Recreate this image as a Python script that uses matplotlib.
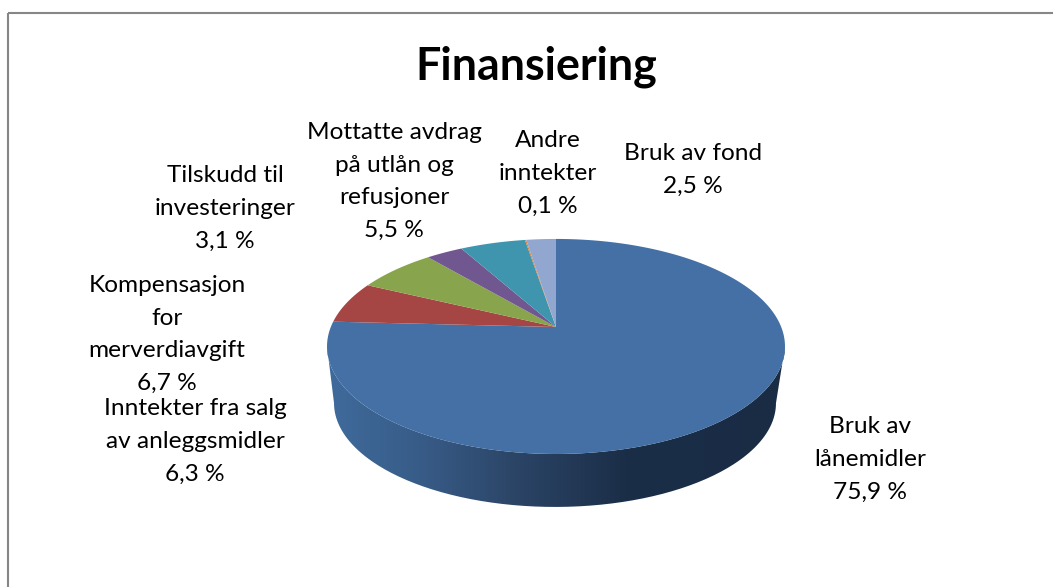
import matplotlib
matplotlib.use('Agg')
import matplotlib.pyplot as plt
import numpy as np
from matplotlib.colors import LinearSegmentedColormap
from matplotlib.patches import PathPatch, Rectangle
from matplotlib.path import Path
from matplotlib.transforms import Transform

plt.rcParams['font.family'] = ['Lato', 'DejaVu Sans']

labels = ['Bruk av\nlånemidler', 'Inntekter fra salg\nav anleggsmidler',
          'Kompensasjon\nfor\nmerverdiavgift', 'Tilskudd til\ninvesteringer',
          'Mottatte avdrag\npå utlån og\nrefusjoner', 'Andre\ninntekter', 'Bruk av fond']
values = [75.9, 6.3, 6.7, 3.1, 5.5, 0.1, 2.5]
colors = ['#4470a5', '#a64644', '#88a44c', '#70578f', '#4095ae', '#dc8136', '#92a7cf']

# label centre and first baseline in pixels
label_x = [870, 195, 167, 225, 394, 548, 693]
label_y = [433, 415, 292, 182, 139, 147, 160]
LINE_STEP = 32.7

# pie seen in perspective: apex, widths and tilt in pixels
CX, CY = 556, 327
TILT = 0.181
AX_U, AX_V = 225.2, 104.0


def project(xy, scale=1.0, drop=0.0, shift=0.0):
    u, v = xy[:, 0], xy[:, 1]
    w = 1 + TILT * v
    return np.column_stack([CX + shift + scale * AX_U * u / w,
                            CY + drop - scale * AX_V * v / w])


class Perspective(Transform):
    input_dims = 2
    output_dims = 2

    def transform_non_affine(self, xy):
        return project(np.asarray(xy))

    def transform_path_non_affine(self, path):
        t = np.linspace(0, 1, 30)
        pts = [curve(t) for curve, code in path.iter_bezier() if code != Path.MOVETO]
        return Path(project(np.vstack(pts)))


fig = plt.figure(figsize=(10.53, 5.87), dpi=100)
ax = fig.add_axes([0, 0, 1, 1])

wedges, _ = ax.pie(values, colors=colors, startangle=90, counterclock=False,
                   wedgeprops={'linewidth': 0})
persp = Perspective()
for w in wedges:
    w.set_transform(persp + ax.transData)
    w.set_zorder(3)

# side wall of the big slice, from one widest point of the ellipse to the other
a = np.linspace(np.pi + np.arcsin(TILT), 2 * np.pi - np.arcsin(TILT), 200)
rim = np.column_stack([np.cos(a), np.sin(a)])
top_rim = project(rim)
low_rim = project(rim, scale=0.965, drop=57.4, shift=-1.0)
wall = np.vstack([top_rim, low_rim[::-1]])
cmap = LinearSegmentedColormap.from_list(
    'wall', [(0, '#3f6b9c'), (0.2, '#385c88'), (0.4, '#2c4668'), (0.65, '#1b2e48'), (1, '#1a2c44')])
im = ax.imshow(np.linspace(0, 1, 256)[None, :], cmap=cmap, aspect='auto',
               extent=(327, 785, 520, 300), zorder=2)
clip = PathPatch(Path(wall), transform=ax.transData, fc='none', ec='none')
ax.add_patch(clip)
im.set_clip_path(clip)

ax.add_patch(Rectangle((8, 13), 1100, 650, fc='none', ec='#868686', lw=1.5, zorder=1))

ax.text(536, 80, 'Finansiering', fontsize=32.2, fontweight='bold', ha='center', va='baseline')
for name, val, x, y in zip(labels, values, label_x, label_y):
    pct = f'{val:.1f} %'.replace('.', ',')
    # one text per line, matplotlib's line height changes with the letters
    for i, line in enumerate(name.split('\n') + [pct]):
        ax.text(x, y + i * LINE_STEP, line, fontsize=17.6, ha='center', va='baseline')

ax.set_aspect('auto')
ax.set_xlim(0, 1053)
ax.set_ylim(587, 0)
ax.axis('off')
fig.savefig('out.png', dpi=100, facecolor='white')
